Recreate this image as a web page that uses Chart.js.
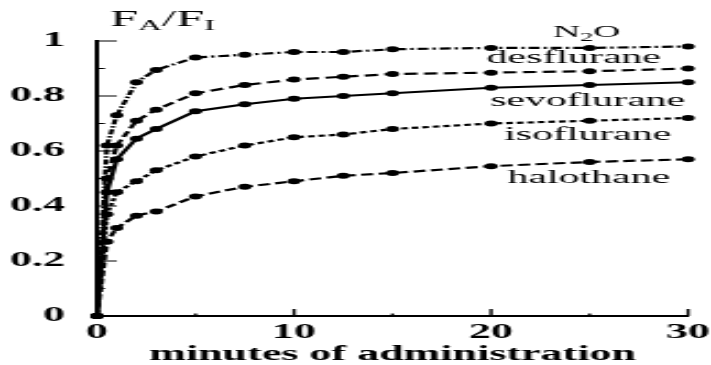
<!DOCTYPE html>
<html>
<head>
<meta charset="utf-8">
<script src="https://cdn.jsdelivr.net/npm/chart.js@4.4.1/dist/chart.umd.min.js"></script>
<style>
  html, body { margin: 0; padding: 0; background: #fff; overflow: hidden; }
  /* the source figure is stretched sideways, so the chart is drawn narrow and scaled */
  #wrap { position: relative; width: 323px; height: 365px; transform: scaleX(2.2012); transform-origin: 0 0; }
</style>
</head>
<body>
<div id="wrap"><canvas id="uptakeChart"></canvas></div>
<script>
// Minutes at which FA/FI was sampled.
const minutes = [0, 0.5, 1, 2, 3, 5, 7.5, 10, 12.5, 15, 20, 25, 30];

// FA/FI for each agent.
const nitrousOxide = [0, 0.62, 0.73, 0.85, 0.895, 0.94, 0.95, 0.96, 0.96, 0.97, 0.975, 0.975, 0.98];
const desflurane   = [0, 0.50, 0.62, 0.71, 0.75, 0.81, 0.84, 0.86, 0.87, 0.88, 0.885, 0.89, 0.90];
const sevoflurane  = [0, 0.45, 0.57, 0.645, 0.68, 0.745, 0.77, 0.79, 0.80, 0.81, 0.83, 0.84, 0.85];
const isoflurane   = [0, 0.37, 0.45, 0.49, 0.53, 0.58, 0.62, 0.65, 0.66, 0.68, 0.70, 0.71, 0.72];
const halothane    = [0, 0.27, 0.32, 0.365, 0.38, 0.435, 0.47, 0.49, 0.51, 0.52, 0.545, 0.56, 0.57];

const xTickValues = [0, 10, 20, 30];
const yTickValues = [0, 0.2, 0.4, 0.6, 0.8, 1];

const serif = 'Liberation Serif';

function toPoints(values) {
  return values.map((v, i) => ({x: minutes[i], y: v}));
}

function series(label, values, dash) {
  return {
    label: label,
    data: toPoints(values),
    borderColor: '#000',
    borderWidth: 2.2,
    borderDash: dash,
    pointRadius: 3,
    pointBorderWidth: 0,
    pointBackgroundColor: '#000',
    tension: 0,
    fill: false,
    clip: false
  };
}

// Draw a run of text pieces, some of them as subscripts.
function drawRuns(ctx, runs, x, y, center) {
  let total = 0;
  runs.forEach(r => {
    ctx.font = r.size + 'px "' + serif + '"';
    r.w = ctx.measureText(r.text).width;
    total += r.w;
  });
  let cx = center ? x - total / 2 : x;
  runs.forEach(r => {
    ctx.font = r.size + 'px "' + serif + '"';
    ctx.fillText(r.text, cx, y + (r.dy || 0));
    cx += r.w;
  });
}

// Ticks pointing into the plot, plus the title and the curve names.
const figureMarks = {
  id: 'figureMarks',
  afterDraw(chart) {
    const ctx = chart.ctx;
    const xs = chart.scales.x;
    const ys = chart.scales.y;
    const left = chart.chartArea.left;
    const bottom = chart.chartArea.bottom;

    ctx.save();
    ctx.strokeStyle = '#000';
    ctx.lineWidth = 1;
    for (let i = 1; i <= 10; i++) {
      const py = ys.getPixelForValue(i / 10);
      const len = i % 2 === 0 ? 9 : 3.6;
      ctx.beginPath();
      ctx.moveTo(left, py);
      ctx.lineTo(left + len, py);
      ctx.stroke();
    }
    for (let m = 5; m <= 30; m += 5) {
      const px = xs.getPixelForValue(m);
      const len = m % 10 === 0 ? 7 : 2.5;
      ctx.lineWidth = 1.4;
      ctx.beginPath();
      ctx.moveTo(px, bottom);
      ctx.lineTo(px, bottom - len);
      ctx.stroke();
    }

    ctx.fillStyle = '#000';
    ctx.textAlign = 'left';
    ctx.textBaseline = 'alphabetic';
    drawRuns(ctx, [
      {text: 'F', size: 23},
      {text: 'A', size: 15, dy: 4},
      {text: '/', size: 23},
      {text: 'F', size: 23},
      {text: 'I', size: 15, dy: 4}
    ], 50, 26, false);

    drawRuns(ctx, [
      {text: 'N', size: 17},
      {text: '2', size: 12, dy: 4},
      {text: 'O', size: 17}
    ], xs.getPixelForValue(24.85), ys.getPixelForValue(1.015), true);

    const names = [
      ['desflurane', 24.2, 0.92],
      ['sevoflurane', 24.9, 0.765],
      ['isoflurane', 24.9, 0.64],
      ['halothane', 24.95, 0.484]
    ];
    names.forEach(n => {
      drawRuns(ctx, [{text: n[0], size: 19}], xs.getPixelForValue(n[1]), ys.getPixelForValue(n[2]), true);
    });
    ctx.restore();
  }
};

const uptakeChart = new Chart(document.getElementById('uptakeChart'), {
  type: 'line',
  data: {
    datasets: [
      series('N2O', nitrousOxide, [5, 1.8, 1.5, 1.8]),
      series('desflurane', desflurane, [6, 3]),
      series('sevoflurane', sevoflurane, []),
      series('isoflurane', isoflurane, [3, 1.8]),
      series('halothane', halothane, [5.5, 2.5])
    ]
  },
  options: {
    responsive: true,
    maintainAspectRatio: false,
    animation: false,
    layout: {padding: {top: 41, right: 10.4, left: 0, bottom: 0}},
    plugins: {
      legend: {display: false},
      tooltip: {enabled: false}
    },
    scales: {
      x: {
        type: 'linear',
        min: 0,
        max: 30,
        afterFit: scale => {
          scale.height = 49;
          scale.paddingRight = 0;
          scale.paddingLeft = 0;
        },
        afterBuildTicks: scale => { scale.ticks = xTickValues.map(v => ({value: v})); },
        grid: {display: false, drawTicks: false},
        border: {display: true, color: '#000', width: 2},
        ticks: {
          color: '#000',
          padding: 5,
          maxRotation: 0,
          font: {family: serif, size: 20, weight: 'bold'}
        },
        title: {
          display: true,
          text: 'minutes of administration',
          color: '#000',
          padding: 0,
          font: {family: serif, size: 20, weight: 'bold', lineHeight: 1}
        }
      },
      y: {
        type: 'linear',
        min: 0,
        max: 1,
        afterFit: scale => { scale.width = 44.07; },
        afterBuildTicks: scale => { scale.ticks = yTickValues.map(v => ({value: v})); },
        grid: {display: false, drawTicks: false},
        border: {display: true, color: '#000', width: 2},
        ticks: {
          color: '#000',
          padding: 14.5,
          font: {family: serif, size: 20, weight: 'bold'},
          callback: v => String(+v.toFixed(1))
        }
      }
    }
  },
  plugins: [figureMarks]
});
</script>
</body>
</html>
